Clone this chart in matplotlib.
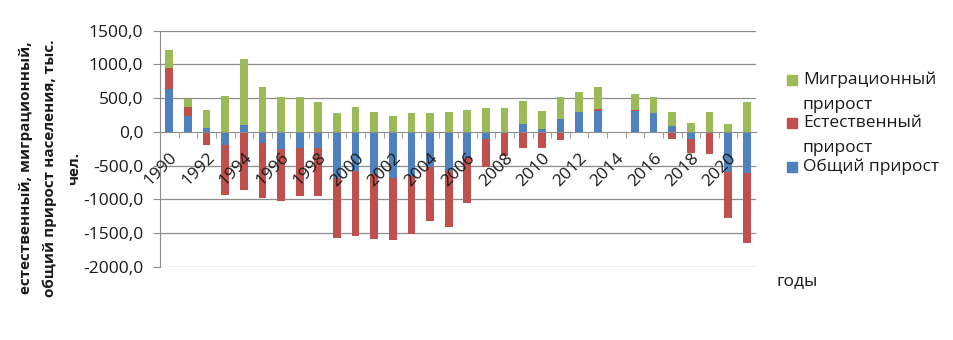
import numpy as np
import matplotlib
matplotlib.use("Agg")
import matplotlib.pyplot as plt
from matplotlib.patches import Rectangle

plt.rcParams['font.family'] = ['Open Sans', 'DejaVu Sans']

years = list(range(1990, 2022))
nan = np.nan
total = [635, 238, 62, -193, 104, -168, -250, -233, -247, -690,
         -575, -620, -690, -650, -520, -580, -390, -110, 0, 110,
         40, 189, 298, 313, nan, 303, 273, 90, -109, -20,
         -590, -605]
natural = [313, 125, -200, -744, -868, -819, -777, -719, -705, -882,
           -965, -967, -917, -858, -803, -828, -660, -415, -357, -245,
           -233, -119, -5, 25, nan, 20, -2, -109, -208, -312,
           -684, -1041]
migration = [272, 122, 258, 536, 982, 660, 524, 515, 442, 278,
             372, 293, 238, 273, 278, 293, 323, 358, 358, 347,
             268, 332, 293, 322, nan, 242, 248, 203, 125, 288,
             114, 437]
series_names = ["Общий прирост", "Естественный\nприрост", "Миграционный\nприрост"]
colors = ["#4F81BD", "#C0504D", "#9BBB59"]
yticks = [-2000, -1500, -1000, -500, 0, 500, 1000, 1500]

W, H = 954, 340
fig = plt.figure(figsize=(W / 100, H / 100), dpi=100)
ax = fig.add_axes([160 / W, 1 - 266.7 / H, (756 - 160) / W, (266.7 - 30.7) / H])
ax.set_axisbelow(False)

x = np.arange(len(years))
pos = np.zeros(len(years))
neg = np.zeros(len(years))
for vals, col in zip([total, natural, migration], colors):
    v = np.array(vals, dtype=float)
    vv = np.nan_to_num(v)
    bottom = np.where(vv >= 0, pos, neg)
    ax.bar(x, v, bottom=bottom, width=0.42, color=col, zorder=1)
    pos += np.where(vv > 0, vv, 0)
    neg += np.where(vv < 0, vv, 0)

ax.set_xlim(-0.5, len(years) - 0.5)
ax.set_ylim(-2000, 1500)
ax.set_yticks(yticks)
ax.set_yticklabels([f"{t:.1f}".replace('.', ',') for t in yticks])
grid_c = "#8c8c8c"
for t in yticks:
    if t != 0:
        ax.axhline(t, color=grid_c, lw=0.9, zorder=0.5)

for s in ['top', 'right']:
    ax.spines[s].set_visible(False)
ax.spines['left'].set_color(grid_c)
ax.spines['bottom'].set_color(grid_c)
ax.spines['bottom'].set_position(('data', 0))

ax.set_xticks(x[::2])
ax.set_xticklabels([str(y) for y in years[::2]], rotation=45, ha='right',
                   va='top', rotation_mode='anchor')
ax.set_xticks(np.arange(0.5, len(years) - 0.5, 1), minor=True)
ax.tick_params(axis='x', which='major', length=0, pad=13, labelsize=12.5, labelcolor='#1a1a1a')
ax.tick_params(axis='x', which='minor', length=4, color=grid_c, direction='out')
ax.tick_params(axis='y', length=5, color=grid_c, pad=7, labelsize=12.5, labelcolor='#1a1a1a')

# y label
fig.text(50 / W, 1 - 168 / H, "естественный, миграционный,\nобщий прирост населения, тыс.\nчел.",
         rotation=90, ha='center', va='center', multialignment='center',
         fontsize=11, fontweight='bold', linespacing=1.9, color='#1a1a1a')

# x label
fig.text(777 / W, 1 - 281 / H, "годы", ha='left', va='center', fontsize=12.5, color='#1a1a1a')

# legend (manual, Excel-like)
leg_items = [("Миграционный", "прирост", colors[2], 80),
             ("Естественный", "прирост", colors[1], 123),
             ("Общий прирост", None, colors[0], 167)]
for l1, l2, col, yc in leg_items:
    fig.patches.append(Rectangle((787 / W, 1 - (yc + 5) / H), 10 / W, 10 / H,
                                 transform=fig.transFigure, color=col, figure=fig))
    fig.text(803 / W, 1 - yc / H, l1, ha='left', va='center', fontsize=12.5, color='#1a1a1a')
    if l2:
        fig.text(803 / W, 1 - (yc + 25) / H, l2, ha='left', va='center', fontsize=12.5, color='#1a1a1a')

fig.savefig("out.png", dpi=100)
